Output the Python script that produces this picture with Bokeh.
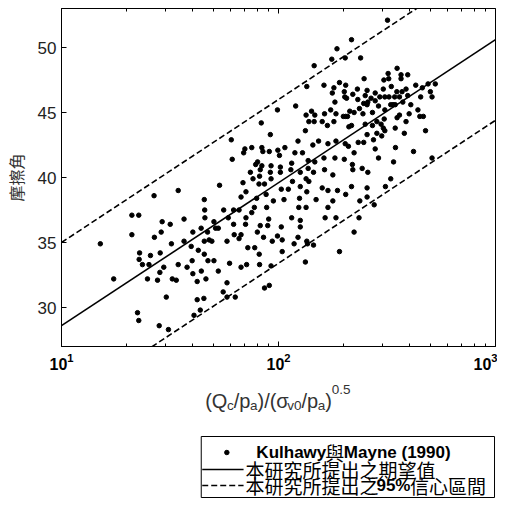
from bokeh.plotting import figure
from bokeh.models import (Range1d, LogAxis, FixedTicker, ColumnDataSource,
                          LogTickFormatter, CustomJSTickFormatter)
from bokeh.layouts import column
from bokeh.core.properties import value
from bokeh.embed import file_html
from bokeh.resources import INLINE

# ---------------- data ----------------
x_kulhawy = [
    15.1, 34.5, 53.5, 26.7, 45.5, 55.9, 45.7, 21.1, 22.7, 36.7, 45.8, 29.1, 31.7, 50.4, 21.1, 26.8,
    28.8, 40.3, 44.0, 47.1, 51.3, 52.8, 47.9, 49.3, 45.5, 36.7, 32.1, 39.6, 42.7, 22.9, 25.7, 28.5,
    45.5, 22.8, 40.0, 47.3, 50.4, 23.6, 25.3, 29.6, 34.5, 37.9, 52.8, 17.4, 28.4, 24.9, 27.7, 32.4,
    33.8, 40.3, 44.1, 46.3, 42.2, 55.6, 30.4, 42.2, 45.3, 22.4, 22.7, 40.8, 43.6, 28.2, 31.1,
    186, 176, 146, 203, 135, 162, 191, 180, 177, 201, 202, 120, 98.9, 182, 174, 134, 142, 147, 163,
    184, 204, 83.3, 138, 146, 159, 168, 180, 133, 91.7, 60.6, 123, 153, 169, 184, 144, 70.0, 69.1,
    75.3, 83.8, 84.7, 90.7, 99.3, 101, 107, 119, 129, 61.2, 80.1, 78.5, 83.8, 92.4, 102, 115, 137,
    147, 162, 182, 201, 74.2, 82.4, 91.7, 102, 114, 126, 137, 145, 163, 178, 81.8, 76.3, 92.4, 68.6,
    86.2, 81.3, 116, 126, 134, 138, 159, 169, 187, 204, 70.8, 67.2, 79.3, 87.7, 103, 111, 135, 94.7,
    106, 125, 149, 178, 62.1, 65.8, 77.4, 88.2, 124, 134, 169, 75.3, 58.7, 70.8, 90.1, 115, 126, 164,
    184, 62.1, 70.5, 82.4, 89.2, 103, 126, 79.9, 62.5, 67.2, 65.8, 57.9, 85.3, 98.9, 104, 93.6, 123,
    118, 135, 136, 145, 72.2, 77.7, 104, 81.5, 59.5, 71.3, 67.2, 81.8, 92.4, 133, 191, 57.9, 57.9,
    63.2, 86.2, 90.7,
    318, 217, 239, 352, 320, 367, 367, 394, 306, 322, 248, 204, 231, 256, 279, 304, 331, 387, 429,
    460, 489, 528, 351, 371, 501, 220, 251, 293, 309, 323, 343, 361, 394, 452, 510, 206, 232, 267,
    279, 247, 256, 258, 289, 329, 337, 345, 374, 407, 236, 213, 245, 271, 309, 439, 400, 361, 199,
    208, 223, 448, 465, 307, 352, 284, 271, 251, 217, 211, 297, 387, 304, 309, 345, 476, 256, 284,
    299, 380, 274, 233, 247, 210, 203, 279, 346, 419, 223, 289, 339, 510, 219, 243, 258, 220, 329,
    217, 256, 311, 237, 256, 276, 235, 223,
]
y_kulhawy = [
    34.9, 39.0, 39.4, 38.6, 38.3, 37.5, 37.5, 37.1, 37.1, 36.8, 36.9, 36.6, 36.4, 36.6, 35.6, 35.4,
    35.8, 35.8, 36.1, 35.8, 36.1, 36.1, 35.2, 35.1, 35.1, 35.1, 34.9, 34.7, 34.4, 34.2, 34.0, 34.2,
    34.1, 33.7, 33.6, 33.6, 33.6, 33.3, 33.3, 33.1, 33.3, 33.1, 32.8, 32.2, 32.7, 32.2, 32.1, 32.2,
    32.1, 32.6, 32.8, 32.2, 32.0, 31.2, 30.8, 30.6, 30.7, 29.6, 29.0, 29.4, 29.8, 28.6, 28.3,
    49.9, 49.1, 48.6, 49.2, 47.0, 47.1, 47.3, 46.9, 46.5, 46.6, 46.2, 45.5, 45.2, 45.8, 45.2, 44.8,
    45.1, 44.8, 44.9, 44.9, 44.7, 44.2, 44.3, 44.3, 44.3, 44.0, 44.3, 43.6, 43.3, 42.9, 42.8, 42.8,
    42.6, 42.8, 42.5, 42.2, 41.9, 42.3, 42.3, 42.0, 42.0, 42.1, 41.7, 42.3, 41.9, 41.9, 41.4, 41.2,
    41.0, 40.9, 40.9, 40.8, 41.1, 41.3, 41.2, 41.5, 41.5, 41.4, 40.4, 40.6, 40.4, 40.4, 40.6, 40.4,
    40.7, 40.4, 40.6, 40.2, 40.1, 39.9, 39.9, 39.6, 39.5, 39.5, 39.7, 39.3, 39.9, 39.7, 39.2, 39.0,
    39.0, 38.7, 38.9, 38.5, 38.4, 38.7, 39.1, 39.1, 38.9, 38.2, 38.3, 38.4, 38.3, 38.2, 37.5, 37.5,
    37.7, 37.7, 37.7, 37.7, 37.7, 37.3, 36.9, 36.9, 36.8, 36.9, 36.7, 36.9, 36.9, 36.4, 36.4, 36.3,
    36.3, 36.2, 36.2, 35.8, 35.6, 35.6, 35.3, 35.1, 35.4, 35.5, 35.2, 35.1, 35.4, 34.9, 35.1, 34.9,
    34.8, 34.6, 34.6, 34.3, 34.1, 33.4, 33.3, 33.1, 33.3, 33.2, 33.5, 34.3, 31.9, 30.8, 30.8, 31.5,
    31.7,
    52.1, 50.6, 49.2, 48.4, 48.0, 47.9, 47.6, 47.9, 47.5, 47.6, 47.6, 47.1, 46.8, 46.7, 46.5, 46.8,
    47.0, 46.8, 47.1, 46.9, 47.2, 47.2, 46.6, 46.6, 46.6, 46.4, 46.3, 46.2, 46.2, 46.2, 46.2, 46.2,
    46.3, 46.2, 46.2, 46.1, 46.0, 46.1, 45.9, 45.7, 45.6, 45.8, 45.5, 45.6, 45.6, 45.6, 45.8, 45.6,
    45.3, 45.1, 44.9, 45.0, 45.2, 45.2, 44.9, 44.8, 44.7, 44.7, 45.0, 44.7, 44.7, 44.5, 44.6, 44.3,
    44.0, 44.1, 44.0, 43.9, 44.1, 44.3, 43.8, 43.6, 43.8, 43.6, 43.3, 43.4, 43.2, 43.4, 42.9, 42.7,
    42.7, 42.4, 42.6, 42.2, 42.3, 42.0, 41.9, 41.5, 41.2, 41.5, 41.0, 40.7, 40.4, 40.6, 39.9, 39.3,
    39.2, 39.3, 38.2, 38.5, 37.9, 36.9, 35.8,
]

line_x = [10, 1000]
fit_y = [28.6, 50.6]
upper_y = [35.0, 57.0]
lower_y = [22.4, 44.4]

x_major = [10, 100, 1000]
x_minor = [20, 30, 40, 50, 60, 70, 80, 90, 200, 300, 400, 500, 600, 700, 800, 900]
y_ticks = [30, 35, 40, 45, 50]
y_label = "摩擦角"
legend_names = ["Kulhawy與Mayne (1990)", "本研究所提出之期望值", "本研究所提出之95%信心區間"]

# ---------------- layout helpers ----------------
LATIN = "Liberation Sans"
CJK = "Noto Sans CJK TC"
TXT = "#222222"

AR = {"(": 333, ")": 333, "/": 278, "Q": 778, "p": 556, "c": 500, "a": 556, "v": 500,
      "0": 556, ".": 278, "5": 556, "σ": 573, " ": 278}
ARB = {"K": 722, "u": 611, "l": 278, "h": 611, "a": 556, "w": 778, "y": 556, "M": 833,
       "n": 611, "e": 556, " ": 278, "(": 333, ")": 333, "1": 556, "9": 556, "0": 556,
       "5": 556, "%": 889}


def tw(s, size, bold=False):
    tab = ARB if bold else AR
    tot = 0
    for ch in s:
        tot += 1000 if ord(ch) > 0x2E80 else tab.get(ch, 556)
    return tot * size / 1000.0


W = 497
H1 = 380
H2 = 118
BL = 54   # left border (canvas px)
BR = 2    # right border (canvas px)

p = figure(width=W, height=H1, x_axis_type="log", title=None,
           x_range=Range1d(10, 1000), y_range=Range1d(27, 53),
           output_backend="svg", toolbar_location=None,
           min_border_left=BL, min_border_right=BR, min_border_top=8, min_border_bottom=34)
p.grid.visible = False
p.outline_line_color = "black"
p.outline_line_width = 1
p.background_fill_color = "white"
p.border_fill_color = "white"

src = ColumnDataSource(dict(x=x_kulhawy, y=y_kulhawy))
p.scatter("x", "y", source=src, size=4.5, color="black")
p.line(line_x, fit_y, line_color="black", line_width=1.6)
p.line(line_x, upper_y, line_color="black", line_width=1.6, line_dash="6 3")
p.line(line_x, lower_y, line_color="black", line_width=1.6, line_dash="6 3")

xa = p.xaxis[0]
xa.ticker = FixedTicker(ticks=x_major, minor_ticks=x_minor)
xa.formatter = LogTickFormatter()
xa.major_tick_in = 5
xa.major_tick_out = 0
xa.minor_tick_in = 3
xa.minor_tick_out = 0
xa.axis_line_color = "black"
xa.major_label_text_font = LATIN
xa.major_label_text_font_size = "16px"
xa.major_label_text_font_style = "bold"
xa.major_label_text_color = "black"
xa.major_label_standoff = 6

ya = p.yaxis[0]
ya.ticker = FixedTicker(ticks=y_ticks)
ya.major_tick_in = 5
ya.major_tick_out = 0
ya.minor_tick_line_color = None
ya.axis_line_color = "black"
ya.major_label_text_font = LATIN
ya.major_label_text_font_size = "17px"
ya.major_label_text_color = TXT
ya.major_label_standoff = 5
ya.axis_label = y_label
ya.axis_label_text_font = CJK
ya.axis_label_text_font_size = "16px"
ya.axis_label_text_font_style = "normal"
ya.axis_label_text_color = "#333333"
ya.axis_label_standoff = 7

top = LogAxis(ticker=FixedTicker(ticks=x_major, minor_ticks=x_minor),
              formatter=CustomJSTickFormatter(code="return ''"))
top.major_tick_in = 5
top.major_tick_out = 0
top.minor_tick_in = 3
top.minor_tick_out = 0
top.axis_line_color = None
top.major_label_standoff = 0
p.add_layout(top, "above")

# ---------------- second panel: x-axis title and legend ----------------
# Its frame is aligned with the plot frame above (canvas x BL .. W-BR), so the
# range is chosen to make one unit equal one canvas pixel.
q = figure(width=W, height=H2, title=None,
           x_range=Range1d(BL, W - BR), y_range=Range1d(0, H2),
           output_backend="svg", toolbar_location=None,
           x_axis_location=None, y_axis_location=None,
           min_border_left=BL, min_border_right=BR, min_border_top=0, min_border_bottom=0)
q.grid.visible = False
q.outline_line_color = None
q.background_fill_color = "white"
q.border_fill_color = "white"

PAGE_TOP = H1  # vertical position (screen px) where this panel starts


def yy(page_y):
    return H2 - (page_y - PAGE_TOP)


def cx(page_x):
    return page_x - 8


# x-axis title composed of pieces (main / subscript / superscript)
MAIN, SUB = 20, 13.5
parts = [("(Q", "m"), ("c", "b"), ("/p", "m"), ("a", "b"), (")/(σ", "m"), ("v0", "b"),
         ("/p", "m"), ("a", "b"), (")", "m"), ("0.5", "u")]
xpos = cx(208)
for s, kind in parts:
    size = MAIN if kind == "m" else SUB
    base = {"m": 400, "b": 404.5, "u": 389}[kind]
    q.text(x=[xpos], y=[yy(base)], text=[s], text_font=value(LATIN),
           text_font_size=value(f"{size}px"), text_color="#333333",
           text_baseline="alphabetic", text_align="left")
    xpos += tw(s, size)

# legend box
q.quad(left=[cx(204)], right=[cx(502)], bottom=[yy(497)], top=[yy(436)],
       fill_color=None, line_color="black", line_width=1)

rows = [452, 469, 485]
LAT_B = 17
CJ = 19
# row 1: marker + mixed-weight text
q.scatter(x=[cx(230)], y=[yy(rows[0])], size=4.5, color="black")
name0 = legend_names[0]
seg0 = [(name0[:7], True), (name0[7:8], False), (name0[8:], True)]
xpos = cx(260)
for s, bold in seg0:
    if bold:
        q.text(x=[xpos], y=[yy(rows[0])], text=[s], text_font=value(LATIN),
               text_font_size=value(f"{LAT_B}px"), text_font_style=value("bold"),
               text_color="black", text_baseline="middle")
        xpos += tw(s, LAT_B, True)
    else:
        q.text(x=[xpos], y=[yy(rows[0])], text=[s], text_font=value(CJK),
               text_font_size=value(f"{CJ}px"), text_color="black", text_baseline="middle")
        xpos += tw(s, CJ)

# row 2: solid line
q.line([cx(205), cx(247)], [yy(rows[1]), yy(rows[1])], line_color="black", line_width=1.6)
q.text(x=[cx(249)], y=[yy(rows[1])], text=[legend_names[1]], text_font=value(CJK),
       text_font_size=value(f"{CJ}px"), text_color="black", text_baseline="middle")

# row 3: dashed line
q.line([cx(205), cx(247)], [yy(rows[2]), yy(rows[2])], line_color="black", line_width=1.6,
       line_dash="6 3")
name2 = legend_names[2]
seg2 = [(name2[:7], False), (name2[7:10], True), (name2[10:], False)]
xpos = cx(249)
for s, bold in seg2:
    if bold:
        q.text(x=[xpos], y=[yy(rows[2])], text=[s], text_font=value(LATIN),
               text_font_size=value(f"{LAT_B}px"), text_font_style=value("bold"),
               text_color="black", text_baseline="middle")
        xpos += tw(s, LAT_B, True)
    else:
        q.text(x=[xpos], y=[yy(rows[2])], text=[s], text_font=value(CJK),
               text_font_size=value(f"{CJ}px"), text_color="black", text_baseline="middle")
        xpos += tw(s, CJ)

layout = column(p, q, spacing=0)
open("out.html", "w").write(file_html(layout, INLINE))
